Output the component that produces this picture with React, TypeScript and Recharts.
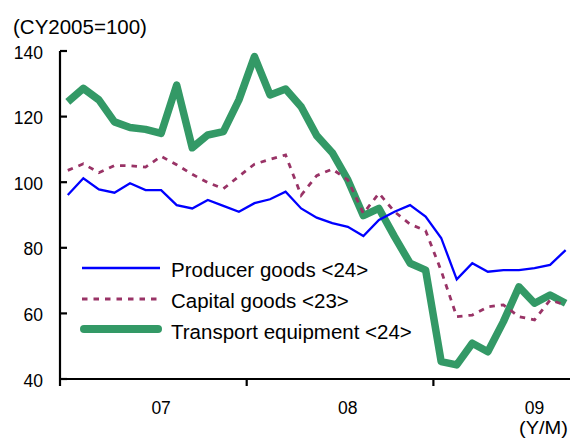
import React from 'react';
import { LineChart, Line, XAxis, YAxis, Legend } from 'recharts';

// Monthly, Jan 2007 – Sep 2009
const months: string[] = [
  '2007/01', '2007/02', '2007/03', '2007/04', '2007/05', '2007/06', '2007/07', '2007/08', '2007/09', '2007/10', '2007/11', '2007/12',
  '2008/01', '2008/02', '2008/03', '2008/04', '2008/05', '2008/06', '2008/07', '2008/08', '2008/09', '2008/10', '2008/11', '2008/12',
  '2009/01', '2009/02', '2009/03', '2009/04', '2009/05', '2009/06', '2009/07', '2009/08', '2009/09',
];

const producerGoods: number[] = [
  96.1, 101.2, 97.8, 96.8, 99.7, 97.6, 97.6, 93.0, 92.0, 94.6, 92.8, 91.0,
  93.6, 94.8, 97.1, 92.0, 89.2, 87.5, 86.4, 83.6, 88.5, 91.0, 93.0, 89.5,
  83.0, 70.4, 75.3, 72.7, 73.2, 73.2, 73.8, 74.8, 79.3,
];

const capitalGoods: number[] = [
  103.6, 105.6, 102.9, 105.1, 105.0, 104.6, 107.9, 105.3, 102.4, 99.9, 98.0, 101.8,
  105.5, 107.0, 108.3, 96.0, 102.0, 104.0, 100.7, 90.5, 96.6, 91.0, 87.2, 85.2,
  73.0, 59.0, 59.5, 62.0, 62.6, 59.0, 58.0, 64.1, 62.5,
];

const transportEquipment: number[] = [
  124.5, 128.6, 125.1, 118.4, 116.7, 116.1, 114.9, 129.6, 110.5, 114.4, 115.4, 125.1,
  138.3, 126.6, 128.4, 123.0, 114.2, 109.0, 100.7, 89.8, 92.0, 83.4, 75.3, 73.2,
  45.3, 44.3, 50.9, 48.3, 57.5, 68.1, 63.1, 65.6, 63.1,
];

const seriesNames: string[] = ['Producer goods <24>', 'Capital goods <23>', 'Transport equipment <24>'];
const yearLabels: string[] = ['07', '08', '09'];
const yTicks: number[] = [40, 60, 80, 100, 120, 140];
const unitLabel = '(CY2005=100)';
const xUnitLabel = '(Y/M)';

const FONT = '"Liberation Sans", Arial, Helvetica, sans-serif';
const BLUE = '#0000FF';
const PLUM = '#993366';
const GREEN = '#339966';

const data = months.map((m, i) => ({
  pos: i + 0.5,
  month: m,
  producer: producerGoods[i],
  capital: capitalGoods[i],
  transport: transportEquipment[i],
}));

// boundaries between years get tick marks; mid-year (July) positions get the labels
const xTicks: number[] = [];
yearLabels.forEach((_, k) => {
  xTicks.push(k * 12);
  xTicks.push(k * 12 + 6.5);
});

const XTick = (props: any) => {
  const { x, y, payload } = props;
  const v = payload.value as number;
  const axisY = y - 8;
  if (Number.isInteger(v)) {
    return <line x1={x} x2={x} y1={axisY} y2={axisY + 7} stroke="#000" strokeWidth={2.2} />;
  }
  const label = yearLabels[Math.floor(v / 12)];
  return (
    <text x={x} y={axisY + 34.5} textAnchor="middle" fontFamily={FONT} fontSize={17.5} fill="#000">
      {label}
    </text>
  );
};

const YTick = (props: any) => {
  const { x, y, payload } = props;
  const axisX = x + 17;
  return (
    <g>
      <line x1={axisX} x2={axisX + 7} y1={y} y2={y} stroke="#000" strokeWidth={2.2} />
      <text x={x} y={y + 7.5} textAnchor="end" fontFamily={FONT} fontSize={17.5} fill="#000">
        {payload.value}
      </text>
    </g>
  );
};

const LegendOverlay = () => (
  <svg width={570} height={444} style={{ position: 'absolute', left: 0, top: 0, pointerEvents: 'none' }}>
    <text x={13} y={33.5} fontFamily={FONT} fontSize={20.5} fill="#000">{unitLabel}</text>
    <text x={519} y={434} fontFamily={FONT} fontSize={17.5} textLength={49} lengthAdjust="spacingAndGlyphs" fill="#000">
      {xUnitLabel}
    </text>
    <line x1={82} x2={160} y1={268} y2={268} stroke={BLUE} strokeWidth={2.3} />
    <line x1={82} x2={160} y1={299} y2={299} stroke={PLUM} strokeWidth={2.8} strokeDasharray="5.5 6" />
    <line x1={84} x2={158} y1={329} y2={329} stroke={GREEN} strokeWidth={8} strokeLinecap="round" />
    <text x={171} y={277} fontFamily={FONT} fontSize={20.5} fill="#000">{seriesNames[0]}</text>
    <text x={171} y={307.5} fontFamily={FONT} fontSize={20.5} fill="#000">{seriesNames[1]}</text>
    <text x={171} y={338.5} fontFamily={FONT} fontSize={20.5} fill="#000">{seriesNames[2]}</text>
  </svg>
);

export default function App() {
  return (
    <div style={{ position: 'absolute', left: 0, top: 0, width: 570, height: 444, background: '#fff' }}>
      <LineChart width={570} height={444} data={data} margin={{ top: 51, right: 0, bottom: 25, left: 0 }}>
        <XAxis
          dataKey="pos"
          type="number"
          domain={[0, 32.78]}
          allowDataOverflow
          ticks={xTicks}
          interval={0}
          height={40}
          tickSize={6}
          tickMargin={2}
          tickLine={false}
          axisLine={{ stroke: '#000', strokeWidth: 2.2 }}
          tick={<XTick />}
        />
        <YAxis
          type="number"
          domain={[40, 140]}
          ticks={yTicks}
          interval={0}
          width={60}
          tickSize={6}
          tickMargin={11}
          tickLine={false}
          axisLine={{ stroke: '#000', strokeWidth: 2.2 }}
          tick={<YTick />}
        />
        <Line
          name={seriesNames[2]}
          dataKey="transport"
          stroke={GREEN}
          strokeWidth={7.5}
          strokeLinejoin="round"
          dot={false}
          activeDot={false}
          isAnimationActive={false}
        />
        <Line
          name={seriesNames[1]}
          dataKey="capital"
          stroke={PLUM}
          strokeWidth={2.8}
          strokeDasharray="5.5 6"
          dot={false}
          activeDot={false}
          isAnimationActive={false}
        />
        <Line
          name={seriesNames[0]}
          dataKey="producer"
          stroke={BLUE}
          strokeWidth={2.3}
          dot={false}
          activeDot={false}
          isAnimationActive={false}
        />
        <Legend
          layout="vertical"
          align="center"
          verticalAlign="middle"
          wrapperStyle={{ left: 0, top: 0, width: 570, height: 444, margin: 0, padding: 0 }}
          content={<LegendOverlay />}
        />
      </LineChart>
    </div>
  );
}
